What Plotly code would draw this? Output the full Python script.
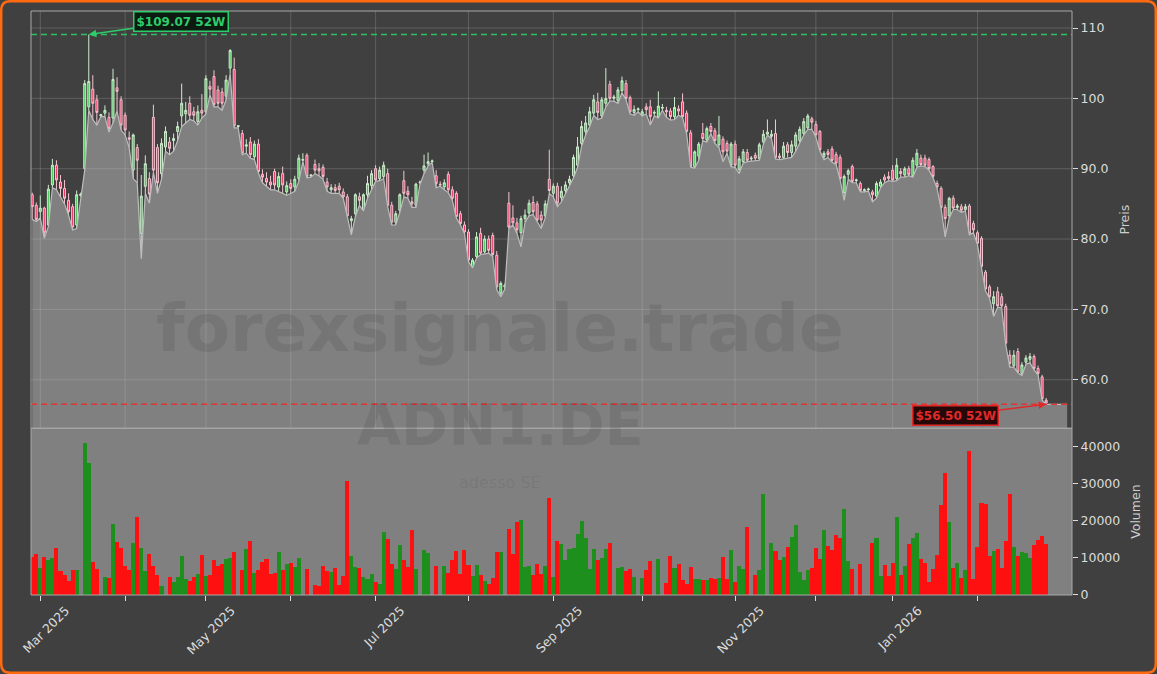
import pandas as pd
import plotly.graph_objects as go
from plotly.subplots import make_subplots

# ---------------- data ----------------
holidays = ["2025-04-18", "2025-04-21", "2025-05-01", "2025-12-24",
            "2025-12-25", "2025-12-26", "2025-12-31", "2026-01-01"]
dates = [d for d in pd.bdate_range("2025-02-27", "2026-02-25")
         if d.strftime("%Y-%m-%d") not in holidays]

opens = [
    86.3, 84.8, 83.9, 84.4, 82.0, 87.7, 90.5, 88.1, 87.2, 85.5,
    84.6, 82.0, 86.2, 90.0, 98.8, 101.3, 99.8, 97.5, 97.9, 97.3,
    97.2, 101.5, 99.8, 97.6, 94.4, 89.8, 93.0, 80.8, 87.5, 88.6,
    97.3, 93.0, 89.3, 93.1, 93.8, 94.0, 95.3, 97.5, 97.8, 99.3,
    98.1, 96.7, 98.3, 98.1, 101.7, 103.1, 101.2, 100.9, 100.3, 104.3,
    104.1, 96.0, 95.0, 93.2, 93.8, 91.7, 93.5, 89.2, 88.6, 88.1,
    89.6, 87.4, 89.3, 86.7, 87.9, 87.4, 88.6, 91.2, 91.9, 89.0,
    90.6, 90.0, 90.2, 88.1, 87.0, 87.3, 87.5, 86.7, 86.0, 82.6,
    83.6, 86.0, 84.2, 86.3, 87.6, 90.0, 88.6, 88.9, 89.3, 84.8,
    82.4, 84.1, 88.3, 86.8, 85.3, 84.8, 88.0, 89.8, 90.7, 91.0,
    89.0, 87.8, 87.4, 89.2, 87.0, 86.5, 83.6, 82.0, 81.0, 76.1,
    77.5, 80.8, 78.2, 80.0, 80.5, 77.7, 72.3, 73.2, 85.1, 83.0,
    82.3, 80.9, 82.9, 83.7, 85.2, 85.0, 83.4, 83.3, 88.5, 86.5,
    87.5, 85.9, 86.9, 88.0, 89.0, 90.5, 93.6, 95.3, 96.2, 97.9,
    99.5, 97.5, 99.3, 102.0, 100.0, 99.7, 101.1, 102.1, 100.1, 98.0,
    98.4, 97.6, 98.8, 98.8, 97.9, 97.4, 98.6, 98.3, 98.2, 97.4,
    98.5, 99.5, 97.9, 95.1, 90.3, 91.8, 95.0, 94.1, 96.0, 95.4,
    93.4, 94.2, 93.6, 90.5, 93.5, 89.9, 91.0, 92.3, 91.4, 91.9,
    91.4, 93.8, 94.9, 94.6, 95.0, 91.8, 91.6, 93.4, 92.3, 93.2,
    94.0, 95.0, 95.8, 97.1, 96.3, 95.3, 91.7, 92.4, 92.8, 92.0,
    91.6, 86.6, 89.2, 90.3, 88.3, 87.9, 86.9, 87.0, 86.7, 86.1,
    87.5, 88.8, 88.9, 89.8, 88.6, 89.6, 89.1, 90.0, 89.0, 90.5,
    91.5, 91.5, 91.3, 90.3, 87.9, 87.2, 84.5, 83.3, 85.8, 84.5,
    84.6, 84.2, 84.7, 82.2, 80.9, 80.1, 75.3, 73.2, 70.8, 72.5,
    71.8, 70.4, 63.5, 62.0, 64.0, 60.9, 62.5, 62.9, 63.3, 61.6,
    60.4, 57.1,
]
highs = [
    86.6, 85.2, 86.2, 84.6, 87.7, 91.4, 91.2, 89.1, 88.4, 86.5,
    85.0, 86.9, 86.6, 102.6, 109.07, 103.3, 100.5, 97.8, 99.0, 98.0,
    104.2, 103.0, 100.3, 98.0, 95.3, 95.0, 93.5, 89.1, 91.9, 89.5,
    99.1, 93.5, 94.3, 96.0, 94.5, 95.0, 96.7, 102.1, 99.5, 100.3,
    98.8, 99.0, 100.6, 103.3, 102.5, 104.0, 101.8, 101.5, 103.3, 107.0,
    105.8, 96.2, 95.5, 94.2, 94.5, 94.0, 94.2, 89.9, 89.5, 89.0,
    90.0, 89.5, 90.3, 88.2, 88.5, 89.0, 92.0, 92.2, 92.2, 89.2,
    91.3, 90.8, 90.6, 88.7, 87.8, 87.8, 88.0, 87.2, 86.4, 83.3,
    86.5, 86.6, 86.5, 89.0, 89.8, 90.5, 90.3, 91.0, 90.0, 85.3,
    84.0, 86.5, 89.7, 87.5, 86.0, 88.0, 88.3, 92.0, 92.3, 91.3,
    89.8, 88.2, 88.5, 89.6, 87.5, 86.8, 84.0, 82.5, 81.4, 77.3,
    81.0, 81.6, 80.5, 80.5, 80.9, 78.3, 74.0, 73.7, 86.7, 84.8,
    83.0, 83.3, 84.2, 85.6, 86.1, 85.4, 84.0, 85.5, 92.7, 87.9,
    88.0, 87.5, 88.2, 89.0, 92.0, 94.5, 96.8, 97.5, 98.8, 100.5,
    100.8, 100.2, 104.3, 102.5, 100.5, 101.6, 103.1, 102.6, 100.4, 99.0,
    98.7, 98.5, 99.3, 99.8, 98.3, 101.0, 99.2, 98.8, 98.6, 100.2,
    99.0, 100.7, 98.3, 95.5, 92.6, 93.8, 96.5, 96.0, 96.5, 95.8,
    97.5, 94.6, 94.0, 93.8, 94.0, 91.8, 92.8, 92.8, 91.8, 92.3,
    93.7, 95.5, 97.0, 95.5, 97.0, 92.2, 93.8, 93.8, 94.0, 95.2,
    96.0, 97.2, 97.8, 97.4, 96.8, 95.5, 92.5, 92.8, 93.2, 92.4,
    92.0, 89.2, 90.0, 90.6, 88.6, 88.2, 87.2, 87.3, 87.0, 88.2,
    88.5, 89.2, 89.6, 90.5, 91.5, 90.1, 90.3, 90.4, 91.6, 92.8,
    92.0, 92.0, 91.6, 90.5, 88.3, 87.5, 84.9, 86.0, 86.2, 85.0,
    85.0, 85.0, 85.0, 82.6, 81.2, 80.4, 75.6, 73.5, 72.6, 73.2,
    72.3, 70.8, 64.2, 64.2, 64.5, 62.5, 63.5, 63.8, 63.6, 62.0,
    60.7, 57.4,
]
lows = [
    82.8, 82.5, 83.0, 80.1, 81.8, 87.3, 87.0, 86.0, 85.0, 83.4,
    81.3, 81.5, 86.0, 89.8, 98.3, 97.0, 96.2, 97.4, 97.4, 95.2,
    96.5, 98.2, 95.5, 94.8, 93.0, 88.6, 88.0, 77.2, 86.5, 85.1,
    89.5, 86.5, 88.5, 92.5, 92.0, 92.5, 94.0, 96.0, 96.5, 97.0,
    96.8, 96.2, 97.2, 97.8, 100.5, 98.8, 98.8, 98.3, 99.8, 103.5,
    95.8, 95.8, 92.0, 92.2, 91.5, 91.3, 89.4, 88.0, 87.5, 87.0,
    87.0, 86.8, 86.5, 86.2, 86.5, 86.8, 88.2, 91.0, 88.7, 88.8,
    89.3, 89.0, 88.5, 86.8, 86.5, 86.5, 86.5, 85.8, 83.0, 80.6,
    83.2, 84.8, 84.0, 85.8, 87.0, 88.2, 88.3, 88.6, 84.6, 82.0,
    82.0, 83.8, 86.0, 85.8, 84.5, 84.5, 87.8, 89.3, 90.4, 90.9,
    87.3, 87.5, 87.0, 86.6, 85.5, 83.0, 82.0, 80.8, 76.8, 75.9,
    77.3, 77.8, 77.9, 78.0, 77.5, 72.8, 71.8, 72.9, 81.5, 82.0,
    80.8, 78.9, 82.4, 83.3, 83.5, 82.5, 81.5, 83.0, 86.5, 86.0,
    84.6, 85.3, 86.5, 87.6, 88.7, 90.2, 93.2, 94.8, 96.0, 97.6,
    97.0, 97.2, 98.8, 99.6, 99.6, 99.3, 100.8, 99.8, 97.8, 97.6,
    98.1, 97.5, 97.8, 96.2, 97.5, 97.2, 98.3, 97.3, 96.9, 97.0,
    97.6, 97.3, 95.0, 90.2, 90.1, 91.2, 94.0, 93.8, 95.0, 93.6,
    93.0, 91.0, 92.2, 90.3, 90.2, 89.3, 90.8, 91.0, 91.1, 91.2,
    91.2, 93.5, 94.8, 94.3, 91.4, 91.3, 91.4, 91.6, 91.6, 92.5,
    93.6, 94.8, 95.6, 95.6, 94.5, 92.5, 91.3, 91.6, 90.9, 90.6,
    88.4, 85.5, 88.5, 88.0, 88.0, 86.7, 86.7, 86.8, 85.3, 85.8,
    87.3, 88.0, 88.3, 88.2, 88.3, 88.8, 88.8, 89.0, 88.8, 90.2,
    90.4, 90.3, 89.8, 88.7, 87.2, 84.3, 80.3, 83.0, 84.2, 84.2,
    83.8, 84.0, 80.6, 80.9, 79.2, 75.9, 72.6, 71.6, 69.0, 70.3,
    70.2, 65.0, 61.8, 61.8, 61.0, 60.6, 62.2, 62.4, 61.4, 60.7,
    57.1, 56.5,
]
closes = [
    84.6, 82.8, 84.4, 80.9, 87.1, 90.5, 88.4, 87.2, 85.8, 83.9,
    81.7, 86.3, 86.4, 102.1, 102.4, 99.3, 98.0, 97.7, 98.3, 95.7,
    102.7, 101.0, 96.2, 95.5, 94.2, 94.8, 91.2, 86.1, 90.7, 86.4,
    89.8, 88.0, 93.6, 95.3, 92.9, 94.3, 96.0, 99.3, 98.3, 97.6,
    97.6, 98.1, 97.9, 102.8, 101.3, 99.1, 99.3, 99.3, 102.6, 106.8,
    96.1, 96.1, 92.2, 93.4, 92.0, 93.5, 89.6, 88.8, 88.1, 87.7,
    87.7, 88.9, 87.7, 87.6, 87.2, 88.5, 91.5, 91.3, 88.9, 89.1,
    89.8, 89.7, 88.9, 87.4, 87.3, 86.9, 87.0, 86.0, 83.3, 82.9,
    86.3, 85.5, 86.3, 87.9, 89.3, 88.4, 89.8, 90.5, 84.8, 82.4,
    83.6, 86.3, 86.5, 86.3, 85.0, 87.8, 88.1, 90.4, 91.0, 91.1,
    87.9, 87.7, 88.0, 87.0, 85.8, 83.2, 82.2, 81.0, 77.0, 77.0,
    80.3, 78.0, 80.0, 78.4, 77.8, 73.2, 73.7, 73.4, 81.7, 82.3,
    81.3, 82.9, 83.4, 85.1, 83.9, 82.7, 82.7, 85.0, 86.9, 87.5,
    85.1, 86.8, 87.7, 88.5, 91.6, 93.1, 96.0, 96.5, 98.1, 99.8,
    98.0, 99.8, 100.0, 100.0, 100.2, 101.2, 102.5, 100.0, 98.1, 98.4,
    98.5, 98.1, 98.4, 97.4, 98.0, 98.9, 98.7, 98.1, 97.4, 98.7,
    98.2, 97.4, 95.3, 90.3, 92.4, 93.5, 94.3, 95.7, 95.3, 94.0,
    94.8, 92.4, 92.5, 93.5, 90.5, 91.4, 92.4, 91.2, 91.5, 91.5,
    93.4, 94.9, 95.2, 94.9, 91.6, 91.6, 93.2, 92.3, 93.4, 94.8,
    95.6, 96.7, 97.5, 96.6, 94.8, 92.7, 92.2, 92.0, 91.2, 90.8,
    88.6, 88.9, 89.7, 88.2, 88.4, 86.9, 87.0, 87.1, 86.3, 87.9,
    88.1, 88.4, 88.6, 88.4, 90.5, 89.3, 90.0, 89.2, 91.2, 92.2,
    90.6, 90.5, 90.0, 88.9, 87.4, 84.5, 82.9, 85.8, 84.4, 84.7,
    84.1, 84.6, 80.8, 81.3, 79.4, 76.1, 72.9, 71.8, 71.8, 70.5,
    70.5, 65.2, 62.3, 63.5, 61.1, 62.1, 63.1, 63.3, 61.6, 60.9,
    57.3, 56.7,
]
volumes = [
    10180, 11080, 7120, 10090, 9280, 9820, 12520, 6310, 5320, 3600,
    6580, 6580, 0, 40990, 35590, 8740, 6850, 0, 4680, 4410,
    19010, 14140, 12520, 7660, 6580, 13870, 20900, 12520, 6310, 10900,
    7660, 5320, 2250, 0, 4680, 3330, 4680, 10360, 4140, 3600,
    4680, 5500, 10630, 4950, 5230, 9280, 7660, 8200, 9550, 9820,
    11440, 0, 6580, 12250, 14410, 5770, 6580, 8740, 9550, 5500,
    5770, 11440, 6580, 8200, 8500, 7390, 9820, 0, 6850, 0,
    2520, 2340, 7660, 6310, 6040, 7120, 2610, 4950, 30720, 10360,
    7390, 7120, 4680, 4140, 5500, 3330, 2790, 16850, 14950, 8200,
    6850, 13330, 9280, 7390, 17390, 6850, 0, 11980, 11170, 0,
    7660, 0, 7660, 5770, 9280, 11710, 5500, 11980, 7930, 4950,
    7930, 5230, 3600, 2790, 4410, 11440, 11440, 0, 17660, 10900,
    19550, 20090, 7390, 7660, 5230, 8200, 5500, 7660, 26000, 4680,
    14410, 13600, 9280, 12250, 12520, 16310, 19820, 15230, 6850, 12250,
    9280, 9820, 12250, 13870, 0, 7120, 7390, 6310, 6850, 4680,
    0, 4410, 6580, 9010, 0, 9550, 0, 3060, 10360, 7120,
    8200, 3870, 2790, 7390, 4140, 4140, 3870, 3870, 4410, 4140,
    4410, 10090, 4140, 11980, 3330, 7660, 6850, 18200, 0, 5230,
    6580, 27120, 0, 13870, 11710, 9280, 10090, 12790, 15500, 18740,
    6040, 3870, 6580, 7120, 12520, 9550, 17390, 13060, 11980, 16040,
    15230, 23060, 9010, 6850, 0, 8200, 0, 0, 13870, 15230,
    4950, 7930, 4950, 8470, 20900, 5230, 7660, 13600, 15230, 16580,
    9550, 8470, 3330, 6850, 10630, 24140, 32790, 19550, 7120, 8470,
    4410, 6580, 38740, 4140, 12790, 24680, 24410, 10360, 11710, 12250,
    7120, 14410, 27120, 12790, 10360, 11440, 11170, 9820, 13330, 14680,
    15770, 13600,
]
price_ticks = [60, 70, 80, 90, 100, 110]
price_tick_text = ["60.0", "70.0", "80.0", "90.0", "100", "110"]
vol_ticks = [0, 10000, 20000, 30000, 40000]
high_52w = 109.07
low_52w = 56.50

n = len(dates)
idx = list(range(n))
high_i = highs.index(max(highs))
low_i = lows.index(min(lows))

# month ticks (first trading day of each month), label every second one
month_pos = [i for i in range(1, n) if dates[i].month != dates[i - 1].month]
label_pos = [p for k, p in enumerate(month_pos) if k % 2 == 0]
label_txt = [dates[p].strftime("%b %Y") for p in label_pos]

BG = "#404040"
FILL = "#808080"
TXT = "#dcdcdc"
FS = 12.5
XR = [-0.3, 257.4]
LABEL_SHIFT = 6.3   # index units: puts the rotated label's centre under its tick

W, H, L, R, T, B = 1157, 674, 31, 85, 11, 79
pw, ph = W - L - R, H - T - B
def px(X):
    return (X - L) / pw
def py(Y):
    return (H - B - Y) / ph

fig = make_subplots(rows=2, cols=1, shared_xaxes=True, vertical_spacing=0,
                    row_heights=[0.7145, 0.2855])

# low-line area
fill_x = idx + [n + 4.2]
fill_y = lows + [low_52w]
fig.add_trace(go.Scatter(x=fill_x, y=fill_y, mode="lines", fill="tozeroy",
                         fillcolor=FILL, line=dict(color="#bdbdbd", width=1.2),
                         hoverinfo="skip"), row=1, col=1)

fig.add_trace(go.Candlestick(
    x=idx, open=opens, high=highs, low=lows, close=closes,
    increasing=dict(line=dict(color="#cdeccd", width=1), fillcolor="#44c455"),
    decreasing=dict(line=dict(color="#f4c4d0", width=1), fillcolor="#ee3060"),
    whiskerwidth=0), row=1, col=1)

vol_colors = ["#1c8f1c" if c >= o else "#ff1010" for o, c in zip(opens, closes)]
fig.add_trace(go.Bar(x=idx, y=volumes, marker=dict(color=vol_colors, line=dict(width=0)),
                     width=1.0), row=2, col=1)

# invisible helper trace for the label axis
fig.add_trace(go.Scatter(x=[label_pos[0]], y=[0], mode="markers", marker=dict(opacity=0),
                         xaxis="x3", yaxis="y2", hoverinfo="skip", showlegend=False))

shapes = []
shapes.append(dict(type="rect", xref="x2 domain", yref="y2 domain", x0=0, x1=1, y0=0, y1=1,
                   fillcolor=FILL, line=dict(width=0), layer="below"))
grid_col = "rgba(205,205,205,0.22)"
for p in month_pos:
    shapes.append(dict(type="line", xref="x", yref="y domain", x0=p, x1=p, y0=0, y1=1,
                       line=dict(color=grid_col, width=1), layer="above"))
for t in price_ticks:
    shapes.append(dict(type="line", xref="x domain", yref="y", x0=0, x1=1, y0=t, y1=t,
                       line=dict(color=grid_col, width=1), layer="above"))
shapes.append(dict(type="line", xref="x domain", yref="y", x0=0, x1=1, y0=high_52w, y1=high_52w,
                   line=dict(color="#2fbf62", width=1.5, dash="6px,4px"), layer="above"))
shapes.append(dict(type="line", xref="x domain", yref="y", x0=0, x1=1, y0=low_52w, y1=low_52w,
                   line=dict(color="#e03434", width=1.5, dash="6px,4px"), layer="above"))
shapes.append(dict(type="rect", xref="x domain", yref="y domain", x0=0, x1=1, y0=0, y1=1,
                   line=dict(color="#a8a8a8", width=1), layer="above"))
shapes.append(dict(type="rect", xref="x2 domain", yref="y2 domain", x0=0, x1=1, y0=0, y1=1,
                   line=dict(color="#a8a8a8", width=1), layer="above"))

x0f, x1f, y0f, y1f, r = 1.2, W - 1.2, 1.2, H - 1.2, 9
path = (f"M {px(x0f + r)} {py(y0f)} L {px(x1f - r)} {py(y0f)} "
        f"Q {px(x1f)} {py(y0f)} {px(x1f)} {py(y0f + r)} "
        f"L {px(x1f)} {py(y1f - r)} Q {px(x1f)} {py(y1f)} {px(x1f - r)} {py(y1f)} "
        f"L {px(x0f + r)} {py(y1f)} Q {px(x0f)} {py(y1f)} {px(x0f)} {py(y1f - r)} "
        f"L {px(x0f)} {py(y0f + r)} Q {px(x0f)} {py(y0f)} {px(x0f + r)} {py(y0f)} Z")
shapes.append(dict(type="path", xref="paper", yref="paper", path=path,
                   line=dict(color="#ff6a10", width=2.5), layer="above"))

wm = "rgba(0,0,0,0.085)"
annotations = [
    dict(text="<b>forexsignale.trade</b>", xref="paper", yref="paper", x=px(500), y=py(328),
         showarrow=False, font=dict(size=66, color=wm, family="DejaVu Sans")),
    dict(text="<b>ADN1.DE</b>", xref="paper", yref="paper", x=px(500), y=py(460),
         showarrow=False, font=dict(size=57, color=wm, family="DejaVu Sans")),
    dict(text="adesso SE", xref="paper", yref="paper", x=px(500), y=py(494),
         showarrow=False, font=dict(size=16, color=wm, family="DejaVu Sans")),
    dict(text=f"<b>${high_52w:.2f} 52W</b>", x=high_i, y=high_52w, xref="x", yref="y",
         showarrow=True, ax=92, ay=-13, arrowhead=2, arrowsize=1, arrowwidth=1.5,
         arrowcolor="#2ecc6a", font=dict(size=12, color="#2ecc6a", family="DejaVu Sans"),
         bgcolor="#0c1a10", bordercolor="#2ecc6a", borderwidth=1.5, borderpad=2),
    dict(text=f"<b>${low_52w:.2f} 52W</b>", x=low_i, y=low_52w, xref="x", yref="y",
         showarrow=True, ax=-91, ay=11, arrowhead=2, arrowsize=1, arrowwidth=1.5,
         arrowcolor="#e02a2a", font=dict(size=12, color="#e02a2a", family="DejaVu Sans"),
         bgcolor="#260808", bordercolor="#e02a2a", borderwidth=1.5, borderpad=2),
]

fig.update_layout(
    width=W, height=H, paper_bgcolor=BG, plot_bgcolor=BG,
    margin=dict(l=L, r=R, t=T, b=B, autoexpand=False), showlegend=False,
    font=dict(family="DejaVu Sans", color=TXT, size=FS),
    bargap=0, shapes=shapes, annotations=annotations, hovermode=False,
    xaxis3=dict(overlaying="x2", anchor="y2", side="bottom", range=XR,
                tickmode="array", tickvals=[p + LABEL_SHIFT for p in label_pos],
                ticktext=label_txt, tickangle=-45, ticks="", showgrid=False,
                zeroline=False, showline=False, automargin=False,
                ticklabelstandoff=5, ticklabeloverflow="allow",
                tickfont=dict(size=FS, color=TXT, family="DejaVu Sans")),
)
fig.update_xaxes(range=XR, showgrid=False, zeroline=False, showline=False,
                 rangeslider_visible=False, row=1, col=1)
fig.update_xaxes(range=XR, showgrid=False, zeroline=False, showline=False,
                 rangeslider_visible=False, row=2, col=1)
fig.update_xaxes(showticklabels=False, ticks="", row=1, col=1)
fig.update_xaxes(tickmode="array", tickvals=month_pos, ticktext=[""] * len(month_pos),
                 ticks="outside", ticklen=5, tickcolor=TXT, automargin=False, row=2, col=1)
fig.update_yaxes(side="right", range=[53.1, 112.42], tickmode="array", tickvals=price_ticks,
                 ticktext=price_tick_text, ticks="outside", ticklen=5, tickcolor=TXT,
                 tickfont=dict(size=FS, color=TXT),
                 showgrid=False, zeroline=False, automargin=False,
                 title=dict(text="Preis", font=dict(size=12.5, color="#cfcfcf"), standoff=12),
                 row=1, col=1)
fig.update_yaxes(side="right", range=[0, 45000], tickmode="array", tickvals=vol_ticks,
                 ticktext=[str(v) for v in vol_ticks], ticks="outside", ticklen=5, tickcolor=TXT,
                 tickfont=dict(size=FS, color=TXT),
                 showgrid=False, zeroline=False, automargin=False,
                 title=dict(text="Volumen", font=dict(size=12.5, color="#cfcfcf"), standoff=11),
                 row=2, col=1)

fig.write_html("out.html", config={"displayModeBar": False},
               post_script="document.body.style.margin='0';document.body.style.padding='0';"
                           "document.documentElement.style.overflow='hidden';")
